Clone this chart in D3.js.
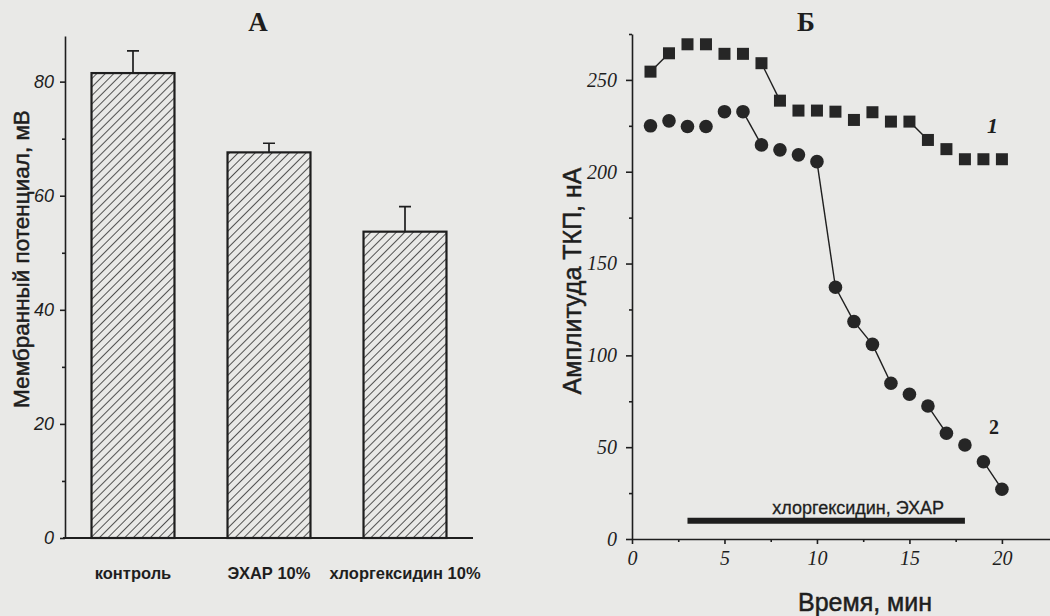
<!DOCTYPE html>
<html><head><meta charset="utf-8">
<script src="https://cdn.jsdelivr.net/npm/d3@7"></script>
<style>
body{margin:0;background:#e9e9e7}
svg{display:block}
.axis path,.axis line{stroke:#1e1e1e;stroke-width:1.6}
.tickA text{font:italic 18px "Liberation Sans",Arial,sans-serif;fill:#1e1e1e}
.tickB text{font:italic 20px "Liberation Serif","Times New Roman",serif;fill:#1e1e1e}
.cat{font:bold 16.5px "Liberation Sans",Arial,sans-serif;fill:#1e1e1e}
.lab{font-family:"Liberation Sans",Arial,sans-serif;fill:#1e1e1e;stroke:#1e1e1e;stroke-width:0.5}
.title{font:bold 27px "Liberation Serif","Times New Roman",serif;fill:#1e1e1e}
</style></head><body>
<svg id="chart"></svg>
<script>
'use strict';
/* Panel А: membrane potential (bars ± error); panel Б: EPC amplitude vs time. */

const barCategories=['контроль','ЭХАР 10%','хлоргексидин 10%'];
const barValues=[81.5,67.6,53.7];
const barErrors=[3.9,1.6,4.4];
const yTicksA=[0,20,40,60,80];
const yMinorA=[10,30,50,70];

const timeMin=[1,2,3,4,5,6,7,8,9,10,11,12,13,14,15,16,17,18,19,20];
const ampl1=[254.5,264.5,269.4,269.4,264.2,264.2,259.1,238.7,233.3,233.3,232.7,228.2,232.4,227.3,227.3,217.3,212.3,206.8,206.8,206.8];
const ampl2=[225,227.7,224.6,224.6,232.7,232.7,214.6,211.9,209.2,205.5,137.1,118.4,106,84.8,78.8,72.4,57.6,51.2,42.1,27.1];
const links1=[[1,2],[7,8],[15,16]];                     // segments joined by a line (minutes)
const links2=[[6,7],[10,11],[11,12],[12,13],[13,14],[16,17],[19,20]];
const drugSpan=[3,18], drugLevel=10, drugLabel='хлоргексидин, ЭХАР';
const xTicksB=[0,5,10,15,20], xMinorB=[2.5,7.5,12.5,17.5];
const yTicksB=[0,50,100,150,200,250], yMinorB=[25,75,125,175,225,275];

const W=1050,H=616,ink='#1e1e1e';
const svg=d3.select('#chart').attr('width',W).attr('height',H);
svg.append('rect').attr('width',W).attr('height',H).attr('fill','#e9e9e7');

const defs=svg.append('defs');
defs.append('pattern').attr('id','hatch').attr('patternUnits','userSpaceOnUse')
  .attr('width',6).attr('height',6).attr('patternTransform','rotate(45)')
  .append('line').attr('x1',0).attr('y1',0).attr('x2',0).attr('y2',6)
  .attr('stroke',ink).attr('stroke-width',1.5);

/* ---------- panel А ---------- */
const xA=d3.scaleBand().domain(barCategories).range([65,473]).paddingInner(0.39).paddingOuter(0.195);
const yA=d3.scaleLinear().domain([0,88]).range([538,36]);
const gA=svg.append('g');

gA.append('g').attr('class','axis tickA').attr('transform','translate(65,0)')
  .call(d3.axisLeft(yA).tickValues(yTicksA).tickSize(5).tickPadding(6).tickSizeOuter(0));
gA.append('g').attr('class','axis').attr('transform','translate(65,0)')
  .call(d3.axisLeft(yA).tickValues(yMinorA).tickSize(3).tickFormat('').tickSizeOuter(0))
  .select('.domain').remove();
gA.append('line').attr('x1',63).attr('x2',473).attr('y1',yA(0)).attr('y2',yA(0))
  .attr('stroke',ink).attr('stroke-width',1.8);

gA.selectAll('.bar').data(barCategories).join('rect').attr('class','bar')
  .attr('x',d=>xA(d)).attr('y',(d,i)=>yA(barValues[i]))
  .attr('width',xA.bandwidth()).attr('height',(d,i)=>yA(0)-yA(barValues[i]))
  .attr('fill','url(#hatch)').attr('stroke',ink).attr('stroke-width',2.2);

gA.selectAll('.err').data(barCategories).join('path').attr('class','err')
  .attr('d',(d,i)=>{const cx=xA(d)+xA.bandwidth()/2, t=yA(barValues[i]+barErrors[i]);
    return `M${cx},${yA(barValues[i])}V${t}M${cx-6},${t}H${cx+6}`;})
  .attr('fill','none').attr('stroke',ink).attr('stroke-width',1.7);

gA.selectAll('.cat').data(barCategories).join('text').attr('class','cat')
  .attr('x',d=>xA(d)+xA.bandwidth()/2).attr('y',579).attr('text-anchor','middle').text(d=>d);

gA.append('text').attr('class','lab').style('font-size','22.5px').attr('transform','translate(29,259) rotate(-90)')
  .attr('text-anchor','middle').text('Мембранный потенциал, мВ');
gA.append('text').attr('class','title').attr('x',258).attr('y',31).attr('text-anchor','middle').text('А');

/* ---------- panel Б ---------- */
const xB=d3.scaleLinear().domain([0,22.6]).range([632,1050]);
const yB=d3.scaleLinear().domain([0,275]).range([539,34]);
const gB=svg.append('g');

gB.append('g').attr('class','axis tickB').attr('transform',`translate(${xB(0)},0)`)
  .call(d3.axisLeft(yB).tickValues(yTicksB).tickSize(6).tickPadding(9).tickSizeOuter(0));
gB.append('g').attr('class','axis').attr('transform',`translate(${xB(0)},0)`)
  .call(d3.axisLeft(yB).tickValues(yMinorB).tickSize(3).tickFormat('').tickSizeOuter(0))
  .select('.domain').remove();
gB.append('g').attr('class','axis tickB').attr('transform',`translate(0,${yB(0)})`)
  .call(d3.axisBottom(xB).tickValues(xTicksB).tickSize(5).tickPadding(7).tickSizeOuter(0));
gB.append('g').attr('class','axis').attr('transform',`translate(0,${yB(0)})`)
  .call(d3.axisBottom(xB).tickValues(xMinorB).tickSize(3).tickFormat('').tickSizeOuter(0))
  .select('.domain').remove();

// drug application bar
gB.append('line').attr('x1',xB(drugSpan[0])).attr('x2',xB(drugSpan[1]))
  .attr('y1',yB(drugLevel)).attr('y2',yB(drugLevel)).attr('stroke',ink).attr('stroke-width',6);
gB.append('text').attr('x',xB((drugSpan[0]+drugSpan[1])/2)+32).attr('y',yB(drugLevel)-7)
  .attr('text-anchor','middle').style('font','18px "Liberation Sans",Arial,sans-serif')
  .attr('fill',ink).attr('stroke',ink).attr('stroke-width',0.3).text(drugLabel);

// connecting segments
const seg=(links,vals)=>links.map(([a,b])=>({x1:xB(a),y1:yB(vals[timeMin.indexOf(a)]),x2:xB(b),y2:yB(vals[timeMin.indexOf(b)])}));
gB.selectAll('.lnk').data(seg(links1,ampl1).concat(seg(links2,ampl2))).join('line').attr('class','lnk')
  .attr('x1',d=>d.x1).attr('y1',d=>d.y1).attr('x2',d=>d.x2).attr('y2',d=>d.y2)
  .attr('stroke',ink).attr('stroke-width',1.4);

gB.selectAll('.sq').data(timeMin).join('rect').attr('class','sq')
  .attr('x',(d)=>xB(d)-6).attr('y',(d,i)=>yB(ampl1[i])-6)
  .attr('width',12).attr('height',12).attr('fill','#262626');
gB.selectAll('.ci').data(timeMin).join('circle').attr('class','ci')
  .attr('cx',d=>xB(d)).attr('cy',(d,i)=>yB(ampl2[i])).attr('r',6.8).attr('fill','#262626');

gB.append('text').attr('x',xB(19.2)).attr('y',yB(221)).style('font','italic bold 22px "Liberation Serif",serif')
  .attr('fill',ink).text('1');
gB.append('text').attr('x',xB(19.3)).attr('y',yB(57)).style('font','bold 20px "Liberation Serif",serif')
  .attr('fill',ink).text('2');

gB.append('text').attr('class','lab').style('font-size','25px').attr('transform','translate(581,281) rotate(-90)')
  .attr('text-anchor','middle').text('Амплитуда ТКП, нА');
gB.append('text').attr('class','lab').style('font-size','25px').attr('x',865).attr('y',611)
  .attr('text-anchor','middle').text('Время, мин');
gB.append('text').attr('class','title').attr('x',806).attr('y',31).attr('text-anchor','middle').text('Б');
</script></body></html>
